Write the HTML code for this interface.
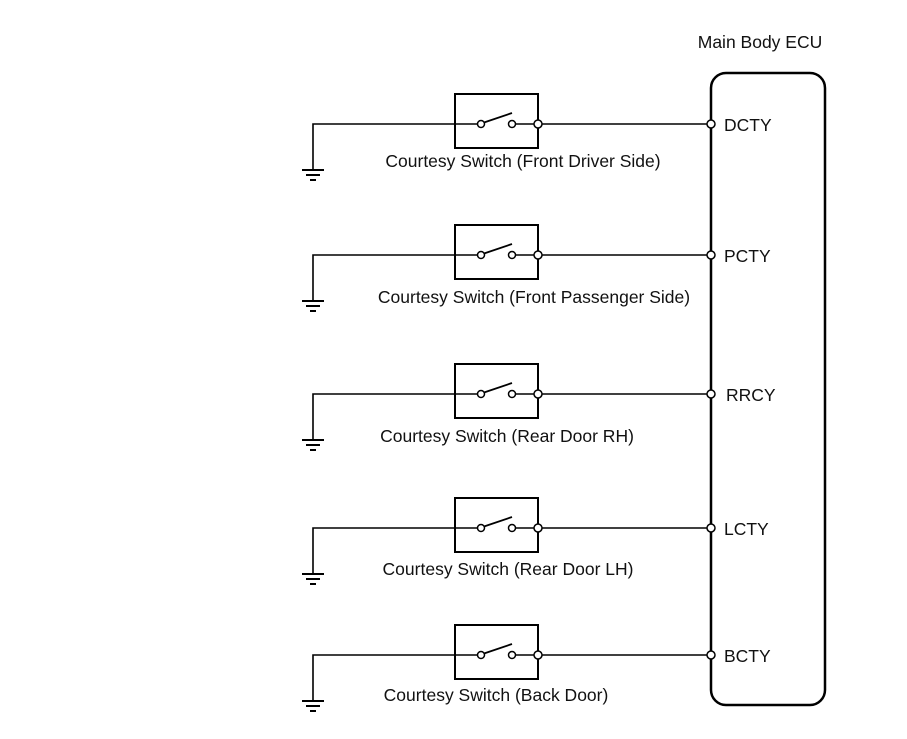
<!DOCTYPE html>
<html><head><style>html,body{margin:0;padding:0;background:#fff}svg{display:block}text{font-family:"Liberation Sans",Arial,sans-serif;font-size:17.5px;fill:#111}</style></head>
<body>
<svg width="907" height="739" viewBox="0 0 907 739" xmlns="http://www.w3.org/2000/svg">
<text x="760" y="48" text-anchor="middle">Main Body ECU</text>
<rect x="711" y="73" width="114" height="632" rx="15" ry="15" fill="none" stroke="#000" stroke-width="2.5"/>
<defs>
<g id="row">
  <polyline points="313,45 313,0 481,0" fill="none" stroke="#000" stroke-width="1.6"/>
  <line x1="302" y1="46" x2="324" y2="46" stroke="#000" stroke-width="2"/>
  <line x1="306" y1="51" x2="320" y2="51" stroke="#000" stroke-width="2"/>
  <line x1="310" y1="56" x2="316" y2="56" stroke="#000" stroke-width="2"/>
  <rect x="455" y="-30" width="83" height="54" fill="none" stroke="#000" stroke-width="2"/>
  <line x1="484" y1="-1.5" x2="512" y2="-11" stroke="#000" stroke-width="1.8"/>
  <line x1="516" y1="0" x2="534" y2="0" stroke="#000" stroke-width="1.6"/>
  <line x1="542" y1="0" x2="707" y2="0" stroke="#000" stroke-width="1.6"/>
  <circle cx="481" cy="0" r="3.5" fill="#fff" stroke="#000" stroke-width="1.5"/>
  <circle cx="512" cy="0" r="3.5" fill="#fff" stroke="#000" stroke-width="1.5"/>
  <circle cx="538" cy="0" r="4" fill="#fff" stroke="#000" stroke-width="1.5"/>
  <circle cx="711" cy="0" r="4" fill="#fff" stroke="#000" stroke-width="1.5"/>
</g>
</defs>
<use href="#row" transform="translate(0,124)"/>
<use href="#row" transform="translate(0,255)"/>
<use href="#row" transform="translate(0,394)"/>
<use href="#row" transform="translate(0,528)"/>
<use href="#row" transform="translate(0,655)"/>
<text x="724" y="131">DCTY</text>
<text x="724" y="262">PCTY</text>
<text x="726" y="401">RRCY</text>
<text x="724" y="535">LCTY</text>
<text x="724" y="662">BCTY</text>
<text x="523" y="167" text-anchor="middle">Courtesy Switch (Front Driver Side)</text>
<text x="534" y="303" text-anchor="middle">Courtesy Switch (Front Passenger Side)</text>
<text x="507" y="442" text-anchor="middle">Courtesy Switch (Rear Door RH)</text>
<text x="508" y="575" text-anchor="middle">Courtesy Switch (Rear Door LH)</text>
<text x="496" y="701" text-anchor="middle">Courtesy Switch (Back Door)</text>
</svg>
</body></html>
